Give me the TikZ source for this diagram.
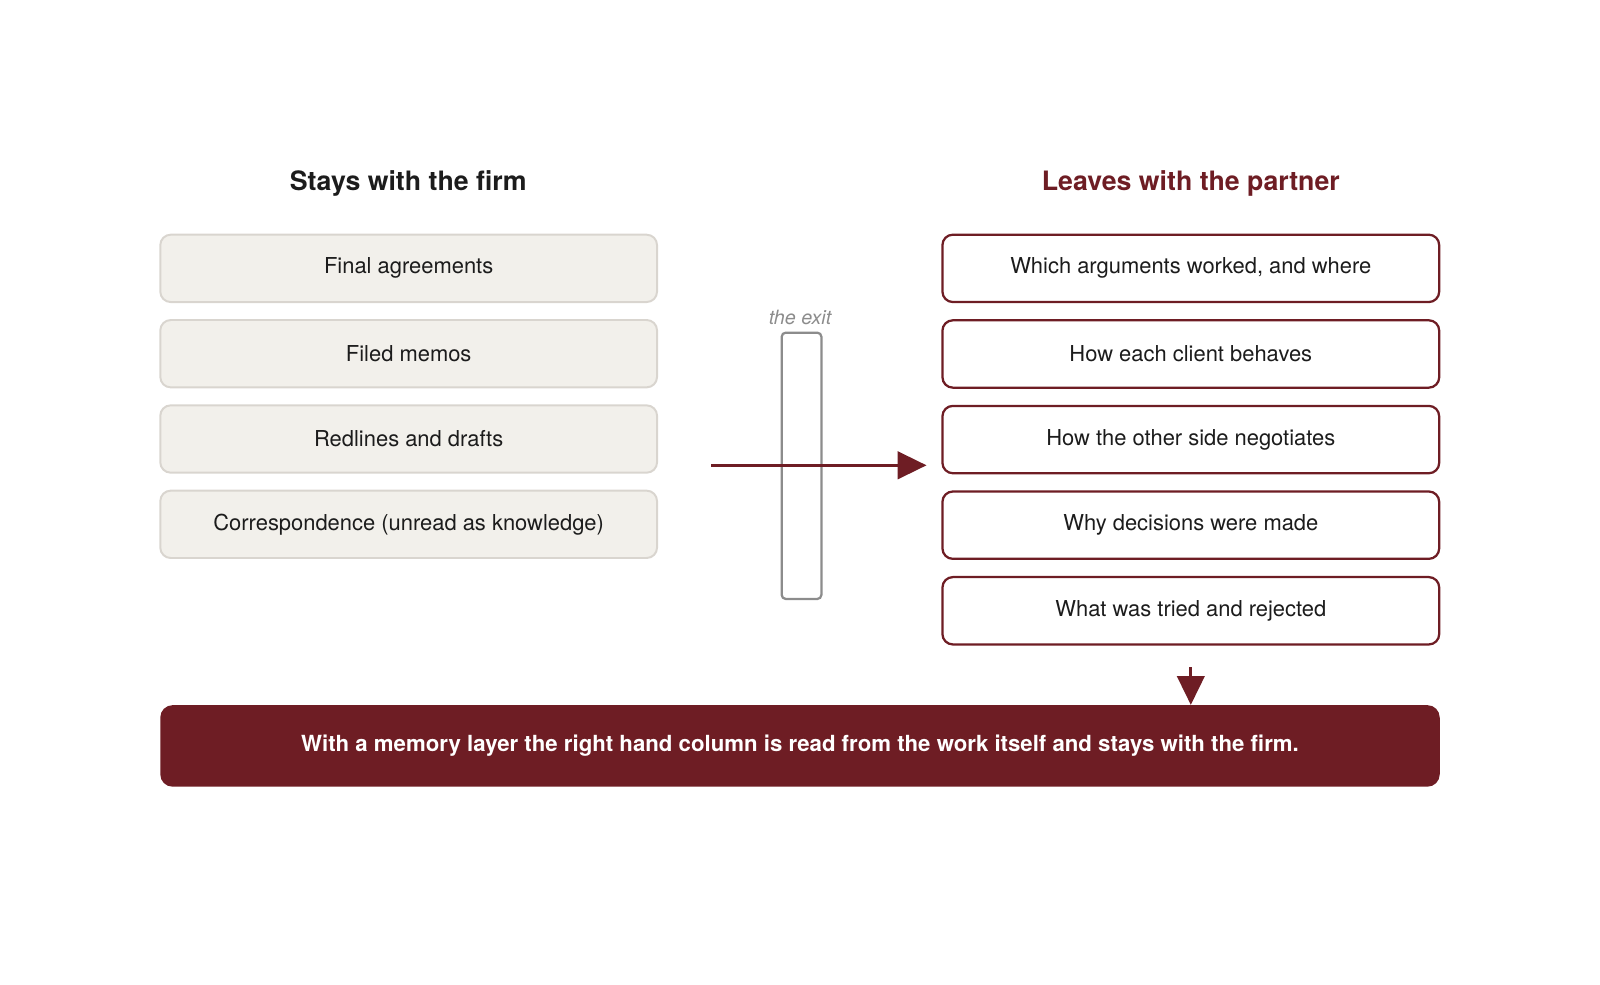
\documentclass[tikz,border=0pt]{standalone}
\usepackage{xcolor}
\usepackage{fontspec}
\setmainfont{TeX Gyre Heros}
\usepackage{tikz}
\usetikzlibrary{arrows.meta}
\usetikzlibrary{shapes,positioning}

\definecolor{wine}{HTML}{6E1D24}
\definecolor{stayfill}{HTML}{F2F0EB}
\definecolor{staydraw}{HTML}{D9D5CF}
\definecolor{exitgray}{HTML}{8C8C8C}
\definecolor{ink}{HTML}{1C1C1C}

\tikzset{
    coltitle/.style={font=\bfseries\fontsize{19}{23}\selectfont},
    stays/.style={
        draw=staydraw,
        line width=1.4pt,
        fill=stayfill,
        rounded corners=0.26cm,
        minimum width=12.42cm,
        minimum height=1.684cm,
        text=ink,
        font=\fontsize{15.6}{18}\selectfont,
    },
    leaves/.style={
        draw=wine,
        line width=1.6pt,
        fill=white,
        rounded corners=0.26cm,
        minimum width=12.42cm,
        minimum height=1.684cm,
        text=ink,
        font=\fontsize{15.6}{18}\selectfont,
    },
    flow/.style={
        draw=wine,
        line width=2.1pt,
        -{Triangle[length=20.5pt,width=19.5pt]},
    },
}

\begin{document}
\begin{tikzpicture}[x=0.02551cm, y=-0.02551cm, node distance=0.40cm]
        \useasboundingbox (0,0) rectangle (1568,965.3);

        % column titles
        \node[coltitle, text=ink] (stayTitle) at (400,180) {Stays with the firm};
        \node[coltitle, text=wine] (leaveTitle) at (1167,180) {Leaves with the partner};

        % stays with the firm
        \node[stays] (stay1) at (400.5,263) {Final agreements};
        \node[stays, below=of stay1] (stay2) {Filed memos};
        \node[stays, below=of stay2] (stay3) {Redlines and drafts};
        \node[stays, below=of stay3] (stay4) {Correspondence (unread as knowledge)};

        % leaves with the partner
        \node[leaves] (leave1) at (1167,263) {Which arguments worked, and where};
        \node[leaves, below=of leave1] (leave2) {How each client behaves};
        \node[leaves, below=of leave2] (leave3) {How the other side negotiates};
        \node[leaves, below=of leave3] (leave4) {Why decisions were made};
        \node[leaves, below=of leave4] (leave5) {What was tried and rejected};

        % the exit
        \node[
            draw=exitgray,
            line width=1.6pt,
            rounded corners=3pt,
            minimum width=0.995cm,
            minimum height=6.66cm,
        ] (exit) at (785.5,456.5) {};
        \node[
            text=exitgray,
            font=\itshape\fontsize{14}{16}\selectfont,
        ] (exitLabel) at (784,311) {the exit};

        \coordinate (exitFrom) at (697,456);
        \coordinate (exitTo) at (908,456);
        \draw[flow] (exitFrom) -- (exitTo);

        % memory layer
        \node[
            fill=wine,
            rounded corners=0.31cm,
            minimum width=31.99cm,
            minimum height=2.04cm,
            text=white,
            font=\bfseries\fontsize{15.8}{18}\selectfont,
        ] (memory) at (784,731) {With a memory layer the right hand column is read from the work itself and stays with the firm.};

        \coordinate (dropTop) at (1167,654);
        \draw[flow] (dropTop) -- (dropTop |- memory.north);
    \end{tikzpicture}
\end{document}
